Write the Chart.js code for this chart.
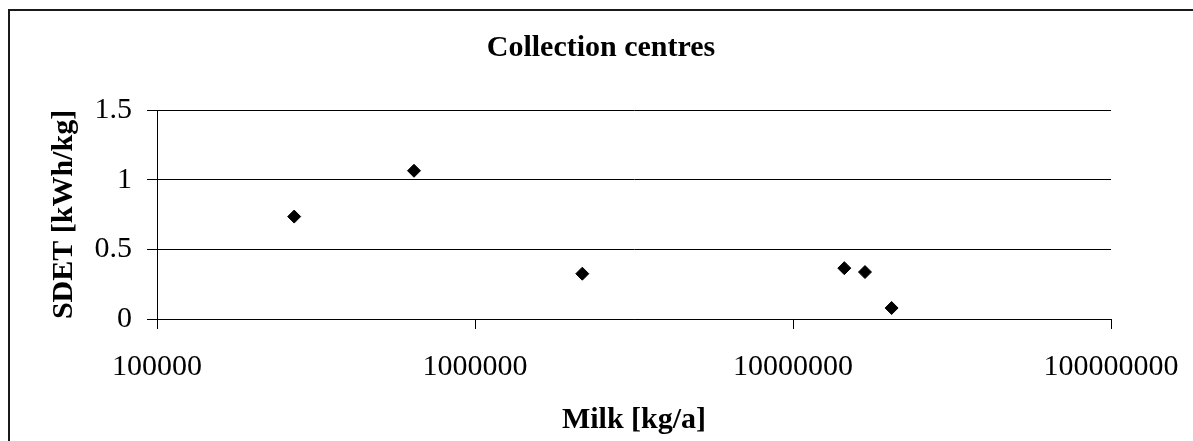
<!DOCTYPE html>
<html>
<head>
<meta charset="utf-8">
<title>Collection centres</title>
<script src="https://cdn.jsdelivr.net/npm/chart.js@4/dist/chart.umd.min.js"></script>
<style>
  html, body { margin: 0; padding: 0; background: #ffffff; }
  #wrap { width: 1193px; height: 441px; }
</style>
</head>
<body>
<div id="wrap"><canvas id="chart" width="1193" height="441"></canvas></div>
<script>
// Annual milk volume per collection centre and specific energy use
const milkKgPerYear = [270000, 643000, 2175000, 14500000, 16840000, 20420000];
const sdetKwhPerKg  = [0.735, 1.064, 0.325, 0.365, 0.337, 0.079];

// Axis tick labels
const xTickValues = [100000, 1000000, 10000000, 100000000];
const yTickValues = [0, 0.5, 1, 1.5];

const chartTitle = 'Collection centres';
const xTitle = 'Milk [kg/a]';
const yTitle = 'SDET [kWh/kg]';

const FONT = "'Liberation Serif', 'Times New Roman', serif";

// Open frame drawn around the chart (top and left edges)
const framePlugin = {
  id: 'frame',
  beforeDraw(chart) {
    const ctx = chart.ctx;
    ctx.save();
    ctx.strokeStyle = '#1a1a1a';
    ctx.lineWidth = 2;
    ctx.beginPath();
    ctx.moveTo(9, chart.height);
    ctx.lineTo(9, 10);
    ctx.lineTo(chart.width, 10);
    ctx.stroke();
    ctx.restore();
  }
};

new Chart(document.getElementById('chart'), {
  type: 'scatter',
  data: {
    datasets: [{
      data: milkKgPerYear.map((x, i) => ({ x, y: sdetKwhPerKg[i] })),
      pointStyle: 'rectRot',
      pointRadius: 6.5,
      pointHoverRadius: 6.5,
      backgroundColor: '#000000',
      borderColor: '#000000',
      borderWidth: 1
    }]
  },
  options: {
    responsive: false,
    animation: false,
    devicePixelRatio: 1,
    layout: { padding: { left: 9, right: 0, top: 0, bottom: 0 } },
    plugins: {
      legend: { display: false },
      tooltip: { enabled: false },
      title: {
        display: true,
        text: chartTitle,
        color: '#000000',
        font: { family: FONT, size: 30, weight: 'bold', lineHeight: 1.2 },
        padding: { top: 30, bottom: 44 }
      }
    },
    scales: {
      x: {
        type: 'logarithmic',
        min: 100000,
        max: 100000000,
        afterFit(scale) { scale.height = 122; scale.paddingRight = 82; },
        afterBuildTicks(scale) { scale.ticks = xTickValues.map(v => ({ value: v })); },
        border: { display: true, color: '#000000', width: 1 },
        grid: { drawOnChartArea: false, drawTicks: true, tickLength: 10, color: '#000000' },
        ticks: {
          autoSkip: false,
          maxRotation: 0,
          padding: 20,
          color: '#000000',
          font: { family: FONT, size: 30 },
          callback: (v) => String(v)
        },
        title: {
          display: true,
          text: xTitle,
          color: '#000000',
          font: { family: FONT, size: 30, weight: 'bold', lineHeight: 1.2 },
          padding: { top: 0, bottom: 3 }
        }
      },
      y: {
        min: 0,
        max: 1.5,
        afterFit(scale) { scale.width = 148; },
        afterBuildTicks(scale) { scale.ticks = yTickValues.map(v => ({ value: v })); },
        border: { display: true, color: '#000000', width: 1 },
        grid: { drawOnChartArea: true, drawTicks: true, tickLength: 10, color: '#000000' },
        ticks: {
          padding: 15,
          color: '#000000',
          font: { family: FONT, size: 30 },
          callback: (v) => String(v)
        },
        title: {
          display: true,
          text: yTitle,
          color: '#000000',
          font: { family: FONT, size: 30, weight: 'bold', lineHeight: 1.2 },
          padding: { top: 37, bottom: 0 }
        }
      }
    }
  },
  plugins: [framePlugin]
});
</script>
</body>
</html>
